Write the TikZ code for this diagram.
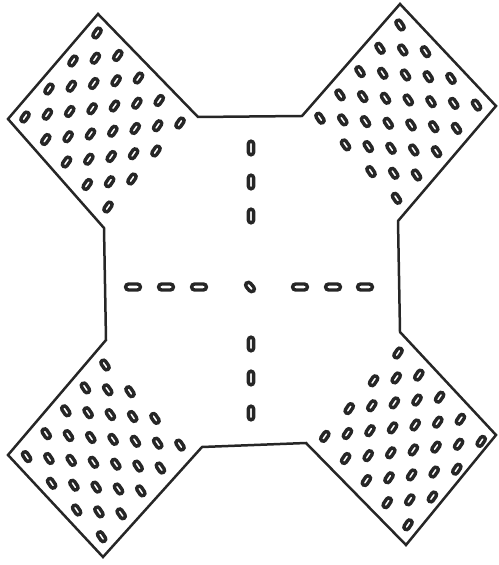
\documentclass[tikz,border=0pt]{standalone}
\usepackage{tikz}
\usetikzlibrary{calc}

\begin{document}
\begin{tikzpicture}[
        x=0.5pt, y=-0.5pt,
    rim/.style={draw=ink, line width=1.25pt, line join=miter},
    slot/.style={draw=ink, line width=1.7pt}
]
\colorlet{ink}{black!85}

    \useasboundingbox (0,0) rectangle (498,565);

    % corners of the outline
    \coordinate (tlt) at (98,14);
    \coordinate (tll) at (8,119);
    \coordinate (tlr) at (198,117);
    \coordinate (tlb) at (104,228);
    \coordinate (trl) at (302,116);
    \coordinate (trt) at (400,4);
    \coordinate (trr) at (496,106);
    \coordinate (trb) at (398,221);
    \coordinate (brt) at (400,332);
    \coordinate (brr) at (496,435);
    \coordinate (brb) at (406,545);
    \coordinate (brl) at (306,443);
    \coordinate (blr) at (202,447);
    \coordinate (blb) at (103,557);
    \coordinate (bll) at (8,455);
    \coordinate (blt) at (106,340);

    \draw [rim] (tlt) -- (tlr) -- (trl) -- (trt) -- (trr) -- (trb)
        -- (brt) -- (brr) -- (brb) -- (brl) -- (blr) -- (blb)
        -- (bll) -- (blt) -- (tlb) -- (tll) -- cycle;

    % first hole and the two steps of each grid
    \coordinate (htl) at (97,33);
    \coordinate (utl) at (-24,28);
    \coordinate (vtl) at (20.75,22.5);
    \coordinate (htr) at (400,25);
    \coordinate (utr) at (-20,23.3);
    \coordinate (vtr) at (25.5,26.7);
    \coordinate (hbl) at (105,365);
    \coordinate (ubl) at (-19.6,22.9);
    \coordinate (vbl) at (25,26.7);
    \coordinate (hbr) at (398,353);
    \coordinate (ubr) at (-24.4,27.8);
    \coordinate (vbr) at (20.8,22.1);

    \foreach \d/\na/\nb/\ang in {tl/3/4/56, tr/4/3/-56, bl/4/3/-56, br/3/4/56} {
        \foreach \a in {0,...,\na} \foreach \b in {0,...,\nb}
            \draw [slot, shift={($(h\d)+\a*(u\d)+\b*(v\d)$)}, rotate=\ang,
                rounded corners=1.3pt] (-5.3,-2.6) rectangle (5.3,2.6);
        \foreach \a in {1,...,\na} \foreach \b in {1,...,\nb}
            \draw [slot, shift={($(h\d)+\a*(u\d)+\b*(v\d)-0.5*(u\d)-0.5*(v\d)$)},
                rotate=\ang, rounded corners=1.3pt] (-5.3,-2.6) rectangle (5.3,2.6);
    }

    % cross of slots in the middle
    \foreach \y in {148,182,216,344,378,413}
        \draw [slot, rounded corners=1.3pt] (248.4,\y-6.8) rectangle (253.6,\y+6.8);
    \foreach \x in {133,166,199,300,333,365}
        \draw [slot, rounded corners=1.5pt] (\x-7.4,284) rectangle (\x+7.4,290);
    \draw [slot, shift={(250,287)}, rotate=-50, rounded corners=1.4pt]
        (-5.2,-2.8) rectangle (5.2,2.8);
\end{tikzpicture}
\end{document}
